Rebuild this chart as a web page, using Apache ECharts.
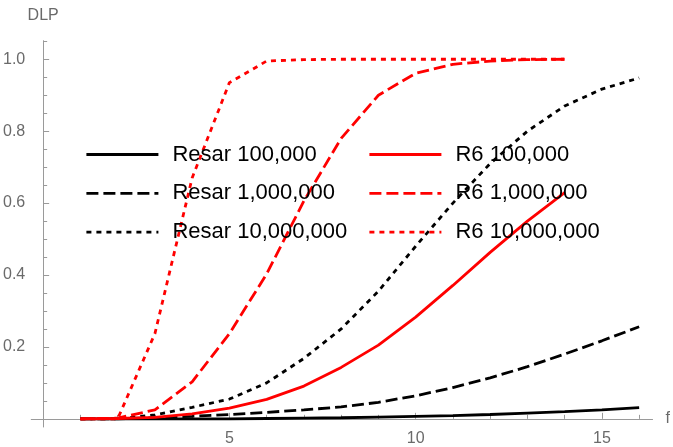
<!DOCTYPE html>
<html>
<head>
<meta charset="utf-8">
<script src="https://cdn.jsdelivr.net/npm/echarts@6/dist/echarts.min.js"></script>
<style>
html,body{margin:0;padding:0;background:#fff;}
#chart{width:673px;height:447px;}
</style>
</head>
<body>
<div id="chart"></div>
<script>
// ---- data ----
var fValues = [1,2,3,4,5,6,7,8,9,10,11,12,13,14,15,16];
var resar100k = [0,0,0,0,0,0.001,0.002,0.003,0.005,0.007,0.009,0.012,0.016,0.020,0.025,0.031];
var resar1m   = [0,0,0.003,0.007,0.012,0.018,0.025,0.033,0.046,0.064,0.087,0.114,0.145,0.18,0.217,0.256];
var resar10m  = [0,0,0.011,0.032,0.055,0.1,0.168,0.25,0.355,0.48,0.6,0.71,0.8,0.87,0.917,0.948];
var r6_100k   = [0,0.001,0.004,0.014,0.03,0.054,0.091,0.143,0.205,0.283,0.371,0.463,0.55,0.629];
var r6_1m     = [0,0.002,0.025,0.103,0.237,0.403,0.606,0.78,0.9,0.961,0.986,0.995,0.999,1.0];
var r6_10m    = [0,0,0.237,0.67,0.935,0.995,0.999,1,1,1,1,1,1,1];

var seriesNames = ['Resar 100,000','Resar 1,000,000','Resar 10,000,000','R6 100,000','R6 1,000,000','R6 10,000,000'];
var xMajorTicks = [5,10,15];
var xMinorTicks = [1,2,3,4,6,7,8,9,11,12,13,14,16];
var yMajorTicks = [0.2,0.4,0.6,0.8,1.0];
var yMinorTicks = [0.05,0.1,0.15,0.25,0.3,0.35,0.45,0.5,0.55,0.65,0.7,0.75,0.85,0.9,0.95,1.05];

function pairs(ys){ return ys.map(function(v,i){ return [fValues[i], v]; }); }

var FONT = 'Liberation Sans, Arial, sans-serif';
var AXIS_C = '#9a9a9a';
var LABEL_C = '#6a6a6a';
var DASHED = [12, 5];
var DOTTED = [5, 5];
var LW = 2.8;

function mk(name, data, color, type){
  return {
    name: name, type: 'line', data: pairs(data),
    xAxisIndex: 0, yAxisIndex: 0,
    symbol: 'none', showSymbol: false, smooth: false,
    lineStyle: {color: color, width: LW, type: type, cap: 'butt'},
    itemStyle: {color: color},
    emphasis: {disabled: true}
  };
}

var XMIN = -0.32, XMAX = 16.36, YMIN = -0.0227, YMAX = 1.0516;

function legendCfg(left, names){
  return {
    orient: 'vertical', left: left, top: 143.5, padding: 0,
    itemWidth: 72, itemHeight: 14, itemGap: 16.8,
    selectedMode: false,
    data: names,
    itemStyle: {opacity: 0, borderWidth: 0},
    lineStyle: {width: LW},
    textStyle: {color: '#000', fontSize: 22, fontFamily: FONT, padding: [0,0,0,9]}
  };
}

var option = {
  animation: false,
  backgroundColor: '#fff',
  grid: {left: 27, top: 40.7, width: 628, height: 387.3},
  xAxis: [{
    type: 'value', min: XMIN, max: XMAX, position: 'bottom',
    name: 'f', nameLocation: 'end', nameGap: 13,
    nameTextStyle: {color: LABEL_C, fontSize: 16, fontFamily: FONT, align: 'left', verticalAlign: 'middle', lineHeight: 16, padding: [0,0,10,0]},
    axisLine: {show: true, onZero: true, onZeroAxisIndex: 0, lineStyle: {color: AXIS_C, width: 1}},
    axisTick: {show: true, inside: true, length: 6, customValues: xMajorTicks, lineStyle: {color: AXIS_C, width: 1}},
    axisLabel: {show: true, customValues: xMajorTicks, margin: 4, color: LABEL_C, fontSize: 16, fontFamily: FONT},
    splitLine: {show: false}
  },{
    type: 'value', min: XMIN, max: XMAX, position: 'bottom',
    axisLine: {show: false, onZero: true, onZeroAxisIndex: 0},
    axisTick: {show: true, inside: true, length: 4, customValues: xMinorTicks, lineStyle: {color: AXIS_C, width: 1}},
    axisLabel: {show: false},
    splitLine: {show: false}
  }],
  yAxis: [{
    type: 'value', min: YMIN, max: YMAX, position: 'left',
    name: 'DLP', nameLocation: 'end', nameGap: 17,
    nameTextStyle: {color: LABEL_C, fontSize: 16, fontFamily: FONT, align: 'center'},
    axisLine: {show: true, onZero: true, onZeroAxisIndex: 0, lineStyle: {color: AXIS_C, width: 1}},
    axisTick: {show: true, inside: true, length: 6, customValues: yMajorTicks, lineStyle: {color: AXIS_C, width: 1}},
    axisLabel: {show: true, customValues: yMajorTicks, margin: 6, color: LABEL_C, fontSize: 16, fontFamily: FONT,
      formatter: function(v){ return v.toFixed(1); }},
    splitLine: {show: false}
  },{
    type: 'value', min: YMIN, max: YMAX, position: 'left',
    axisLine: {show: false, onZero: true, onZeroAxisIndex: 0},
    axisTick: {show: true, inside: true, length: 4, customValues: yMinorTicks, lineStyle: {color: AXIS_C, width: 1}},
    axisLabel: {show: false},
    splitLine: {show: false}
  }],
  legend: [legendCfg(85, seriesNames.slice(0,3)), legendCfg(368, seriesNames.slice(3,6))],
  series: [
    mk(seriesNames[0], resar100k, '#000000', 'solid'),
    mk(seriesNames[1], resar1m, '#000000', DASHED),
    mk(seriesNames[2], resar10m, '#000000', DOTTED),
    mk(seriesNames[3], r6_100k, '#ff0000', 'solid'),
    mk(seriesNames[4], r6_1m, '#ff0000', DASHED),
    mk(seriesNames[5], r6_10m, '#ff0000', DOTTED)
  ]
};

var chart = echarts.init(document.getElementById('chart'), null, {renderer: 'canvas'});
chart.setOption(option);
</script>
</body>
</html>
